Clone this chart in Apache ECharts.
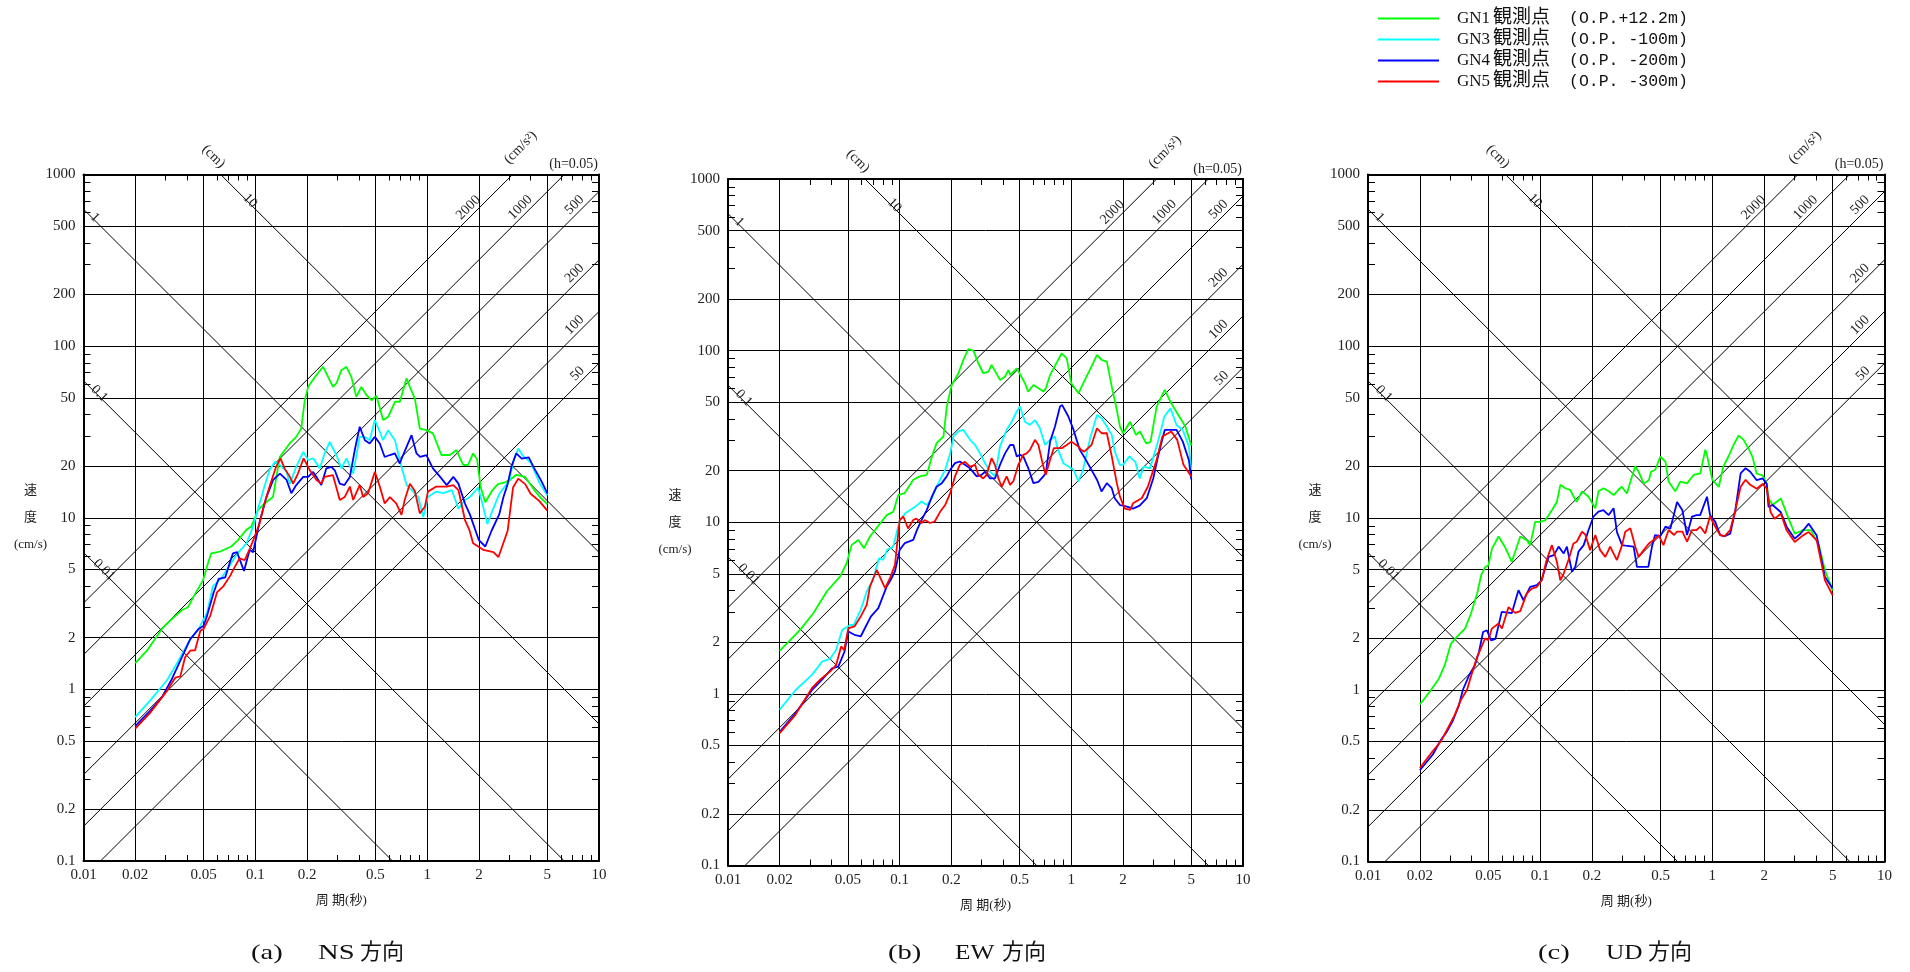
<!DOCTYPE html>
<html><head><meta charset="utf-8">
<script src="https://cdn.jsdelivr.net/npm/echarts@6/dist/echarts.min.js"></script>
<style>html,body{margin:0;padding:0;background:#fff}#c{width:1910px;height:972px}</style>
</head><body><div id="c"></div>
<script>
// ---------------- data ----------------
const seriesNames = ['GN1 観測点 (O.P.+12.2m)', 'GN3 観測点 (O.P. -100m)', 'GN4 観測点 (O.P. -200m)', 'GN5 観測点 (O.P. -300m)'];
const panelTitles = [['(a)', 'NS', '方向'], ['(b)', 'EW', '方向'], ['(c)', 'UD', '方向']];
const xTickLabels = [0.01, 0.02, 0.05, 0.1, 0.2, 0.5, 1, 2, 5, 10];
const yTickLabels = [0.1, 0.2, 0.5, 1, 2, 5, 10, 20, 50, 100, 200, 500, 1000];
const xGridValues = [0.02, 0.05, 0.1, 0.2, 0.5, 1, 2, 5];
const yGridValues = [0.2, 0.5, 1, 2, 5, 10, 20, 50, 100, 200, 500];
const xMinorTicks = [0.03,0.04,0.06,0.07,0.08,0.09,0.3,0.4,0.6,0.7,0.8,0.9,3,4,6,7,8,9];
const yMinorTicks = [0.3,0.4,0.6,0.7,0.8,0.9,3,4,6,7,8,9,30,40,60,70,80,90,300,400,600,700,800,900];
const periodRange = [0.01, 10];
const dispLines = [0.01, 0.1, 1, 10];          // displacement (cm)
const accLines = [50, 100, 200, 500, 1000, 2000]; // acceleration (cm/s2)

const NS_GN1 = [[0.02,1.42],[0.0234,1.68],[0.0286,2.25],[0.0317,2.5],[0.0374,2.9],[0.0404,3.0],[0.0457,3.76],[0.0495,4.3],[0.0535,5.6],[0.0554,6.2],[0.062,6.34],[0.0724,6.8],[0.0792,7.4],[0.0887,8.5],[0.0948,8.9],[0.1037,11.1],[0.113,12.1],[0.1267,13.2],[0.1387,22.6],[0.1585,27.1],[0.173,29.6],[0.185,33.1],[0.194,48.4],[0.203,57.9],[0.2265,67.8],[0.248,75.8],[0.265,66.2],[0.283,57.9],[0.296,60.6],[0.317,72.4],[0.339,75.8],[0.362,66.2],[0.387,50.7],[0.414,57.9],[0.443,51.9],[0.474,48.4],[0.507,51.2],[0.554,37.1],[0.593,38.7],[0.649,47.4],[0.693,47.4],[0.759,64.9],[0.793,57.9],[0.848,49.5],[0.906,33.1],[0.991,32.4],[1.08,31],[1.21,23.2],[1.355,23.2],[1.48,24.8],[1.62,20.3],[1.73,20.3],[1.85,23.7],[1.95,22],[2.05,15],[2.18,12.3],[2.4,14.5],[2.58,15.7],[2.8,16],[3.0,16.5],[3.3,17.8],[3.72,17.3],[4.2,14.5],[4.6,13],[5.0,12]];
const NS_GN3 = [[0.02,0.69],[0.0244,0.86],[0.0306,1.13],[0.0357,1.47],[0.0418,1.96],[0.0468,2.25],[0.0524,2.8],[0.0567,4.0],[0.0634,4.43],[0.0775,6.07],[0.0887,7.08],[0.097,8.87],[0.1037,11.3],[0.113,15.2],[0.121,19],[0.13,21.2],[0.139,20.3],[0.152,18.5],[0.159,15.8],[0.173,19.8],[0.19,24.2],[0.203,21.7],[0.217,22.2],[0.237,19.4],[0.253,23.7],[0.271,27.7],[0.296,23.2],[0.317,19.4],[0.339,22.2],[0.371,18.1],[0.405,29.6],[0.434,29.6],[0.463,28.3],[0.496,37.1],[0.53,31.7],[0.554,28.3],[0.593,32.4],[0.649,28.3],[0.709,19.8],[0.759,15.5],[0.829,14.2],[0.887,13.2],[0.949,10.1],[1.01,13.2],[1.13,14.2],[1.24,13.9],[1.39,14.5],[1.52,11.3],[1.66,12.7],[1.77,13.2],[1.98,15],[2.1,12],[2.24,9.2],[2.4,11],[2.63,13.8],[3.0,16.4],[3.2,22],[3.39,25.3],[3.6,23],[4.0,21],[4.5,16],[5.0,13.5]];
const NS_GN4 = [[0.02,0.61],[0.0244,0.75],[0.0286,0.9],[0.0327,1.15],[0.0366,1.47],[0.0418,1.96],[0.0468,2.25],[0.05,2.35],[0.0524,2.69],[0.0572,3.67],[0.0611,4.4],[0.0668,4.49],[0.0715,5.6],[0.0741,6.2],[0.0782,6.3],[0.0859,4.9],[0.0927,6.5],[0.097,6.3],[0.106,9.5],[0.116,13.2],[0.127,16.6],[0.139,18.1],[0.152,16.6],[0.162,13.9],[0.173,15.5],[0.19,17.3],[0.203,17.3],[0.217,18.5],[0.227,17.3],[0.242,15.5],[0.259,19.4],[0.277,19.8],[0.29,18.9],[0.31,15.8],[0.33,15.5],[0.355,17.3],[0.379,24.8],[0.405,33.9],[0.434,28.3],[0.463,27.1],[0.496,29.6],[0.53,27.1],[0.566,22.6],[0.607,23.2],[0.649,23.7],[0.693,20.7],[0.724,23.2],[0.811,30.3],[0.867,23.7],[0.91,22.6],[0.99,23.2],[1.08,19.4],[1.19,17.3],[1.3,15.5],[1.42,17.3],[1.52,15.8],[1.66,12.1],[1.77,10.5],[2.0,7.4],[2.18,6.8],[2.37,8.4],[2.63,10.5],[2.78,13.2],[2.94,15.7],[3.1,20],[3.3,23.7],[3.55,22.1],[3.9,22.5],[4.2,19.4],[4.6,16.5],[5.0,13.9]];
const NS_GN5 = [[0.02,0.59],[0.0244,0.73],[0.0306,0.98],[0.0342,1.17],[0.0366,1.19],[0.039,1.54],[0.0418,1.68],[0.0446,1.69],[0.0479,2.2],[0.05,2.25],[0.0547,2.69],[0.0598,3.67],[0.0653,4.0],[0.0715,4.6],[0.0741,4.95],[0.081,5.8],[0.0867,5.66],[0.093,6.62],[0.099,7.74],[0.106,9.3],[0.113,12.1],[0.121,15.2],[0.132,19.8],[0.14,22.2],[0.148,19.4],[0.159,17.3],[0.166,15.8],[0.177,18.1],[0.191,22.2],[0.207,19],[0.227,16.6],[0.242,15.8],[0.253,17.3],[0.283,17.7],[0.29,17.3],[0.31,12.7],[0.331,13.2],[0.355,15.2],[0.371,12.7],[0.405,15.5],[0.424,13.2],[0.453,13.9],[0.496,18.5],[0.53,15.2],[0.566,12.1],[0.607,13.2],[0.662,12.1],[0.709,10.4],[0.74,12.7],[0.793,15.8],[0.848,14.3],[0.906,10.6],[0.97,11.6],[1.01,14.2],[1.13,15.2],[1.3,15.2],[1.42,15.5],[1.52,14.5],[1.66,9.7],[1.76,8.5],[1.85,7.1],[2.12,6.5],[2.43,6.3],[2.6,5.9],[2.94,8.4],[3.16,15],[3.39,16.9],[3.72,15.7],[4.0,13.8],[4.5,12.5],[5.0,11]];

const EW_GN1 = [[0.02,1.78],[0.0263,2.36],[0.0314,2.95],[0.0376,3.95],[0.0449,4.82],[0.0491,5.77],[0.0525,7.38],[0.0574,7.89],[0.062,7.06],[0.0671,8.26],[0.0718,9.0],[0.0785,10.1],[0.084,11.0],[0.0918,11.5],[0.0982,14.4],[0.107,14.8],[0.12,17.7],[0.131,18.5],[0.144,18.9],[0.154,24.1],[0.164,28.9],[0.18,31.6],[0.188,47.2],[0.201,63.1],[0.22,73.8],[0.235,88.3],[0.251,102],[0.269,100],[0.287,84.4],[0.307,73.8],[0.329,75.5],[0.343,82.6],[0.384,67.5],[0.411,70.6],[0.43,77.1],[0.44,72.1],[0.481,78.9],[0.49,79.6],[0.537,64.5],[0.561,57.7],[0.601,63.1],[0.643,60.4],[0.687,57.7],[0.71,60.4],[0.752,72.1],[0.77,75.5],[0.79,73.8],[0.879,96.5],[0.94,90.2],[1.0,64.5],[1.1,56.4],[1.2,67.5],[1.31,80.7],[1.41,94.4],[1.5,88.3],[1.61,86.3],[1.72,61.7],[1.84,45.1],[1.92,36.1],[2.0,33],[2.2,38.5],[2.38,32.3],[2.51,33.8],[2.73,28.8],[2.89,29.3],[3.14,47.2],[3.5,59],[3.82,49.3],[4.14,43.2],[4.62,36.1],[5.0,28]];
const EW_GN3 = [[0.02,0.81],[0.0247,1.05],[0.0308,1.29],[0.0353,1.54],[0.0393,1.6],[0.0426,1.8],[0.0463,2.36],[0.0517,2.52],[0.054,2.52],[0.0593,3.09],[0.0643,3.95],[0.0698,4.61],[0.0758,6.17],[0.08,6.04],[0.0845,6.9],[0.0918,7.2],[0.0996,10.1],[0.108,11.3],[0.123,12.3],[0.134,13.2],[0.144,12.6],[0.154,13.8],[0.164,16.1],[0.176,18.5],[0.184,20.2],[0.197,25.2],[0.206,31.6],[0.22,33.8],[0.235,34.5],[0.257,30.2],[0.275,28.2],[0.294,25.2],[0.314,22.1],[0.336,19.7],[0.359,18.5],[0.384,27.6],[0.42,34.5],[0.449,38.5],[0.481,44.2],[0.502,47.2],[0.537,38.5],[0.574,36.9],[0.614,39.4],[0.656,35.3],[0.703,28.2],[0.752,30.2],[0.803,31.6],[0.825,27.6],[0.898,22.1],[0.961,21.1],[1.03,20.2],[1.1,17.3],[1.17,20.2],[1.28,30.2],[1.41,42.2],[1.5,40.4],[1.61,36.1],[1.72,32.3],[1.79,25.8],[1.92,21.6],[2.0,21.6],[2.18,24.2],[2.36,22.5],[2.5,18],[2.64,21.1],[2.87,20.6],[3.2,29.5],[3.48,41.2],[3.78,46.1],[4.1,36.9],[4.46,34.5],[4.84,27.6],[5.0,20.2]];
const EW_GN4 = [[0.02,0.6],[0.0247,0.77],[0.0308,1.05],[0.0353,1.21],[0.0404,1.41],[0.0439,1.44],[0.0477,1.76],[0.0502,2.31],[0.0545,2.21],[0.0593,2.16],[0.0628,2.42],[0.0679,2.82],[0.0751,3.16],[0.084,4.22],[0.0898,4.72],[0.094,5.2],[0.1,6.9],[0.107,7.55],[0.12,7.89],[0.126,9.0],[0.134,10.3],[0.144,11.8],[0.154,14.1],[0.164,16.1],[0.176,16.9],[0.188,18.5],[0.197,20.2],[0.21,22.1],[0.224,22.6],[0.24,21.6],[0.257,20.6],[0.281,18.5],[0.3,18.9],[0.314,19.7],[0.336,18],[0.359,18],[0.384,21.6],[0.411,25.2],[0.44,28.2],[0.46,28.2],[0.481,24.2],[0.502,24.7],[0.525,24.2],[0.562,20.6],[0.601,16.9],[0.643,17.2],[0.687,18.5],[0.71,19.3],[0.752,29.5],[0.803,36.1],[0.859,47.2],[0.883,48.3],[0.961,41.3],[1.03,34.5],[1.12,26.4],[1.2,23.6],[1.31,20.2],[1.41,17.7],[1.5,15.1],[1.61,16.9],[1.72,15.8],[1.79,13.8],[1.92,12.6],[2.0,12.5],[2.13,12.3],[2.29,12],[2.5,12.5],[2.75,13.8],[3.0,18],[3.2,24.2],[3.5,34.5],[4.1,34.5],[4.46,29.5],[4.84,23],[5.0,17.7]];
const EW_GN5 = [[0.02,0.59],[0.0247,0.755],[0.0308,1.08],[0.0344,1.21],[0.0393,1.35],[0.0426,1.47],[0.0456,1.89],[0.0475,1.8],[0.0502,2.41],[0.0545,2.47],[0.0593,2.82],[0.0643,3.3],[0.0671,4.22],[0.0735,5.27],[0.0822,4.13],[0.0878,4.72],[0.0939,5.64],[0.1,10.3],[0.105,10.8],[0.112,9.2],[0.12,10.3],[0.125,10.5],[0.134,9.9],[0.14,10.3],[0.15,9.9],[0.16,10.1],[0.172,11.5],[0.184,12.6],[0.197,14.8],[0.21,18.5],[0.224,21.6],[0.24,22.5],[0.257,21.1],[0.275,21.6],[0.287,18.9],[0.307,18],[0.321,18.9],[0.343,23.6],[0.359,21.6],[0.376,18],[0.393,16.1],[0.42,18.5],[0.44,16.5],[0.46,17.4],[0.491,21.6],[0.525,24.7],[0.549,25.2],[0.574,26.4],[0.614,30.2],[0.643,28.2],[0.687,21.1],[0.71,18.9],[0.752,23.1],[0.77,23.6],[0.79,27],[0.879,27],[0.94,28.2],[1.0,29.5],[1.1,27.6],[1.14,26.4],[1.19,25.8],[1.31,28.2],[1.41,35.3],[1.5,33],[1.61,33],[1.72,24.2],[1.84,16.9],[1.92,14.1],[2.05,12],[2.2,11.8],[2.29,12.9],[2.57,13.8],[2.79,16.1],[3.14,23.1],[3.39,31.6],[3.82,33.8],[4.14,30.2],[4.5,21.6],[5.0,18.5]];

const UD_GN1 = [[0.02,0.82],[0.0231,0.99],[0.0258,1.16],[0.0279,1.39],[0.0303,1.85],[0.0328,2.03],[0.0366,2.27],[0.0396,2.77],[0.043,3.62],[0.0454,4.63],[0.0479,5.18],[0.05,5.3],[0.0525,6.63],[0.0573,7.8],[0.0624,6.78],[0.0684,5.56],[0.0766,7.8],[0.084,7.4],[0.0875,6.95],[0.0935,9.5],[0.1,9.5],[0.107,9.7],[0.117,11.1],[0.125,12.4],[0.131,15.6],[0.14,14.9],[0.149,14.6],[0.163,12.4],[0.175,14.3],[0.191,13.3],[0.209,11.4],[0.218,14.3],[0.233,14.9],[0.25,14.3],[0.267,13.6],[0.285,14.6],[0.298,15.2],[0.319,13.9],[0.341,17.4],[0.357,20],[0.373,18.6],[0.399,15.9],[0.428,16.6],[0.44,18.6],[0.466,19.1],[0.499,22.8],[0.534,21.3],[0.557,16.3],[0.609,14.3],[0.652,16.3],[0.713,15.9],[0.778,17.8],[0.851,18.2],[0.91,25],[0.93,23.3],[1.0,16.7],[1.09,15.2],[1.16,20],[1.24,22.8],[1.33,26.7],[1.42,30.2],[1.52,28.5],[1.62,25.4],[1.71,22.7],[1.81,18.1],[1.96,17.7],[2.07,15.8],[2.12,13],[2.24,11.9],[2.5,13],[2.7,10.6],[3.01,8.1],[3.36,8.5],[3.74,8.5],[4.16,6.93],[4.51,4.96],[5.0,3.79]];
const UD_GN4 = [[0.02,0.34],[0.0238,0.42],[0.0265,0.51],[0.0287,0.57],[0.0311,0.66],[0.0337,0.81],[0.0356,1.0],[0.0386,1.21],[0.0418,1.39],[0.0441,1.66],[0.0466,2.17],[0.049,2.22],[0.0519,1.94],[0.055,1.98],[0.0598,2.84],[0.0684,2.79],[0.0748,3.8],[0.08,3.32],[0.0875,3.97],[0.0956,4.06],[0.102,4.34],[0.112,5.94],[0.12,6.08],[0.128,6.81],[0.137,6.22],[0.143,6.81],[0.153,4.87],[0.16,5.2],[0.167,6.37],[0.179,6.95],[0.191,8.51],[0.204,10.2],[0.218,10.9],[0.233,11.1],[0.25,10.4],[0.267,11.4],[0.279,8.3],[0.299,6.95],[0.313,6.9],[0.349,6.81],[0.365,5.2],[0.389,5.2],[0.425,5.2],[0.446,6.81],[0.465,7.96],[0.499,7.84],[0.534,8.9],[0.57,8.66],[0.624,12.4],[0.67,11.1],[0.713,7.96],[0.762,10.2],[0.81,10.4],[0.85,10.4],[0.931,13.3],[0.97,10.4],[1.04,9.5],[1.11,7.96],[1.18,7.84],[1.27,8.1],[1.36,11.1],[1.46,18.2],[1.56,19.5],[1.66,18.6],[1.81,16.6],[1.96,17],[2.07,15.8],[2.12,11.6],[2.24,11.9],[2.5,10.8],[2.7,8.9],[3.01,7.58],[3.25,8.1],[3.63,9.27],[4.04,7.9],[4.51,4.53],[5.0,3.88]];
const UD_GN5 = [[0.02,0.35],[0.0238,0.44],[0.0265,0.5],[0.0294,0.61],[0.0318,0.71],[0.0346,0.87],[0.0376,1.0],[0.0398,1.21],[0.043,1.55],[0.0448,1.7],[0.0479,1.99],[0.05,1.94],[0.0524,2.27],[0.0573,2.43],[0.06,2.27],[0.0655,3.03],[0.0716,2.8],[0.0766,2.87],[0.0836,3.63],[0.0894,3.88],[0.0956,3.97],[0.102,4.34],[0.109,5.69],[0.117,6.95],[0.125,5.56],[0.131,4.34],[0.137,4.75],[0.146,5.69],[0.156,7.11],[0.163,7.27],[0.175,8.32],[0.183,8.0],[0.195,6.5],[0.209,7.96],[0.223,6.5],[0.239,5.94],[0.255,6.81],[0.279,5.69],[0.299,6.95],[0.312,8.32],[0.334,8.71],[0.357,6.81],[0.373,5.94],[0.399,6.5],[0.428,7.11],[0.456,7.44],[0.488,7.96],[0.52,6.95],[0.557,8.51],[0.6,7.96],[0.624,8.32],[0.67,8.32],[0.713,7.28],[0.762,8.51],[0.81,8.51],[0.851,8.9],[0.91,8.13],[0.968,10.2],[1.04,8.9],[1.11,7.96],[1.18,7.84],[1.27,8.51],[1.36,11.1],[1.46,15.2],[1.56,16.7],[1.66,15.6],[1.81,14.8],[1.96,15.8],[2.07,14.8],[2.18,10.8],[2.3,9.9],[2.5,10.6],[2.7,8.5],[3.01,7.25],[3.36,7.92],[3.63,8.28],[4.04,7.41],[4.51,4.33],[5.0,3.55]];

const panelData = [
  [NS_GN1, NS_GN3, NS_GN4, NS_GN5],
  [EW_GN1, EW_GN3, EW_GN4, EW_GN5],
  [UD_GN1, null, UD_GN4, UD_GN5]
];

// ---------------- layout / style ----------------
const colors = ['#00ff00', '#00ffff', '#0000ff', '#ff0000'];
const FONT = "'Liberation Serif','Noto Sans CJK JP',serif";
const MONO = "'Liberation Mono','Noto Sans CJK JP',monospace";
const panels = [
  {l: 83.5, t: 174.5, w: 515.5, h: 686.5, capX: [251, 318, 360], capScale: 1.3},
  {l: 728, t: 179, w: 515, h: 686.5, capX: [888, 955, 1002], capScale: 1.15},
  {l: 1368, t: 174.5, w: 516.5, h: 687, capX: [1538, 1606, 1648], capScale: 1.15}
];
const dispLabelT = {0.01: 0.013, 0.1: 0.0122, 1: 0.0115, 10: 0.092};
const accLabelT = {50: 7.6, 100: 7.3, 200: 7.3, 500: 7.3, 1000: 3.53, 2000: 1.76};

function fmt(v) { return String(parseFloat(Number(v).toPrecision(4))); }
function legendFmt(name) {
  const m = name.match(/^(\S+) (\S+) (.+)$/);
  return '{a|' + m[1] + '}{b|' + m[2] + '}{c|' + m[3] + '}';
}

const chart = echarts.init(document.getElementById('c'), null, {renderer: 'canvas'});
const legRich = {
  a: {width: 36, fontSize: 17, fontFamily: FONT, color: '#111', lineHeight: 16, height: 16},
  b: {width: 76, fontSize: 19, fontFamily: FONT, color: '#111', lineHeight: 16, height: 16},
  c: {fontSize: 16.5, fontFamily: MONO, color: '#111', lineHeight: 16, height: 16}
};
const option = {
  animation: false,
  backgroundColor: '#fff',
  legend: {
    orient: 'vertical', left: 1373, top: 4, itemWidth: 61, itemHeight: 2, itemGap: 2,
    icon: 'rect', selectedMode: false, data: seriesNames, formatter: legendFmt,
    textStyle: {fontSize: 17, fontFamily: FONT, color: '#111', lineHeight: 16, height: 16, padding: [0, 0, 0, 13], rich: legRich}
  },
  grid: [], xAxis: [], yAxis: [], series: [], graphic: []
};

panels.forEach((p, i) => {
  option.grid.push({left: p.l, top: p.t, width: p.w, height: p.h, outerBoundsMode: 'none', containLabel: false});
  const common = {
    type: 'log', logBase: 10, gridIndex: i,
    axisLine: {show: true, onZero: false, lineStyle: {color: '#000', width: 2}},
    splitLine: {show: false}, minorTick: {show: false}, minorSplitLine: {show: false}
  };
  option.xAxis.push(Object.assign({}, common, {
    min: 0.01, max: 10, position: 'bottom',
    axisTick: {show: true, inside: true, length: 6, customValues: xMinorTicks, lineStyle: {color: '#000', width: 1}},
    axisLabel: {show: true, customValues: xTickLabels, formatter: fmt, margin: 7, fontSize: 15, fontFamily: FONT, color: '#222'}
  }));
  option.xAxis.push(Object.assign({}, common, {
    min: 0.01, max: 10, position: 'top',
    axisTick: {show: true, inside: true, length: 6, customValues: xMinorTicks, lineStyle: {color: '#000', width: 1}},
    axisLabel: {show: false}
  }));
  option.yAxis.push(Object.assign({}, common, {
    min: 0.1, max: 1000, position: 'left',
    axisTick: {show: true, inside: true, length: 7, customValues: yMinorTicks, lineStyle: {color: '#000', width: 1}},
    axisLabel: {show: true, customValues: yTickLabels, formatter: fmt, margin: 8, fontSize: 15, fontFamily: FONT, color: '#222'}
  }));
  option.yAxis.push(Object.assign({}, common, {
    min: 0.1, max: 1000, position: 'right',
    axisTick: {show: true, inside: true, length: 7, customValues: yMinorTicks, lineStyle: {color: '#000', width: 1}},
    axisLabel: {show: false}
  }));
  const xi = 2 * i, yi = 2 * i;
  dispLines.forEach((D, k) => {
    const s = {
      type: 'line', xAxisIndex: xi, yAxisIndex: yi, silent: true, symbol: 'none', z: 2,
      data: periodRange.map(T => [T, 2 * Math.PI * D / T]),
      lineStyle: {color: '#000', width: 1}, emphasis: {disabled: true}
    };
    if (k === 0) {
      s.markLine = {
        silent: true, symbol: ['none', 'none'], label: {show: false}, animation: false,
        lineStyle: {color: '#000', width: 1, type: 'solid'}, emphasis: {disabled: true},
        data: xGridValues.map(v => ({xAxis: v})).concat(yGridValues.map(v => ({yAxis: v})))
      };
    }
    option.series.push(s);
  });
  accLines.forEach(A => {
    option.series.push({
      type: 'line', xAxisIndex: xi, yAxisIndex: yi, silent: true, symbol: 'none', z: 2,
      data: periodRange.map(T => [T, A * T / (2 * Math.PI)]),
      lineStyle: {color: '#000', width: 1}, emphasis: {disabled: true}
    });
  });
  panelData[i].forEach((d, k) => {
    if (!d) return;
    option.series.push({
      name: seriesNames[k], type: 'line', xAxisIndex: xi, yAxisIndex: yi, data: d,
      symbol: 'none', showSymbol: false, z: 5 + k,
      lineStyle: {color: colors[k], width: 1.8}, itemStyle: {color: colors[k]},
      emphasis: {disabled: true}
    });
  });
});

chart.setOption(option);

// ---------------- labels (text) ----------------
const g = [];
function txt(x, y, text, size, opts) {
  g.push(Object.assign({
    type: 'text', x: x, y: y, silent: true, z: 100,
    style: Object.assign({text: text, font: size + 'px ' + FONT, fill: '#222',
      textAlign: 'center', align: 'center', textVerticalAlign: 'middle', verticalAlign: 'middle'}, (opts && opts.style) || {})
  }, (opts && opts.el) || {}));
}
panels.forEach((p, i) => {
  const finder = {xAxisIndex: 2 * i, yAxisIndex: 2 * i};
  dispLines.forEach(D => {
    const T = dispLabelT[D];
    const pt = chart.convertToPixel(finder, [T, 2 * Math.PI * D / T]);
    txt(pt[0] + 1, pt[1] - 2, fmt(D), 14, {el: {rotation: -Math.PI / 4}});
  });
  accLines.forEach(A => {
    const T = accLabelT[A];
    const pt = chart.convertToPixel(finder, [T, A * T / (2 * Math.PI)]);
    txt(pt[0] - 1, pt[1] - 10, fmt(A), 14, {el: {rotation: Math.PI / 4}});
  });
  txt(p.l + 130, p.t - 18, '(cm)', 14, {el: {rotation: -Math.PI / 4}});
  txt(p.l + 437, p.t - 27, '(cm/s²)', 14, {el: {rotation: Math.PI / 4}});
  txt(p.l + p.w - 1, p.t - 10, '(h=0.05)', 14, {style: {textAlign: 'right', align: 'right'}});
  const midY = p.t + p.h / 2;
  txt(p.l - 53, midY - 27, '速', 13);
  txt(p.l - 53, midY, '度', 13);
  txt(p.l - 53, midY + 27, '(cm/s)', 13);
  txt(p.l + p.w / 2, p.t + p.h + 40, '周 期(秒)', 13);
  const cap = panelTitles[i];
  cap.forEach((c, k) => txt(p.capX[k], 953, c, 22, {
    style: {textAlign: 'left', align: 'left', fill: '#111'},
    el: {scaleX: k === 0 ? 1.3 : (k === 1 ? p.capScale : 1.0)}
  }));
});
chart.setOption({graphic: g});
</script>
</body></html>
